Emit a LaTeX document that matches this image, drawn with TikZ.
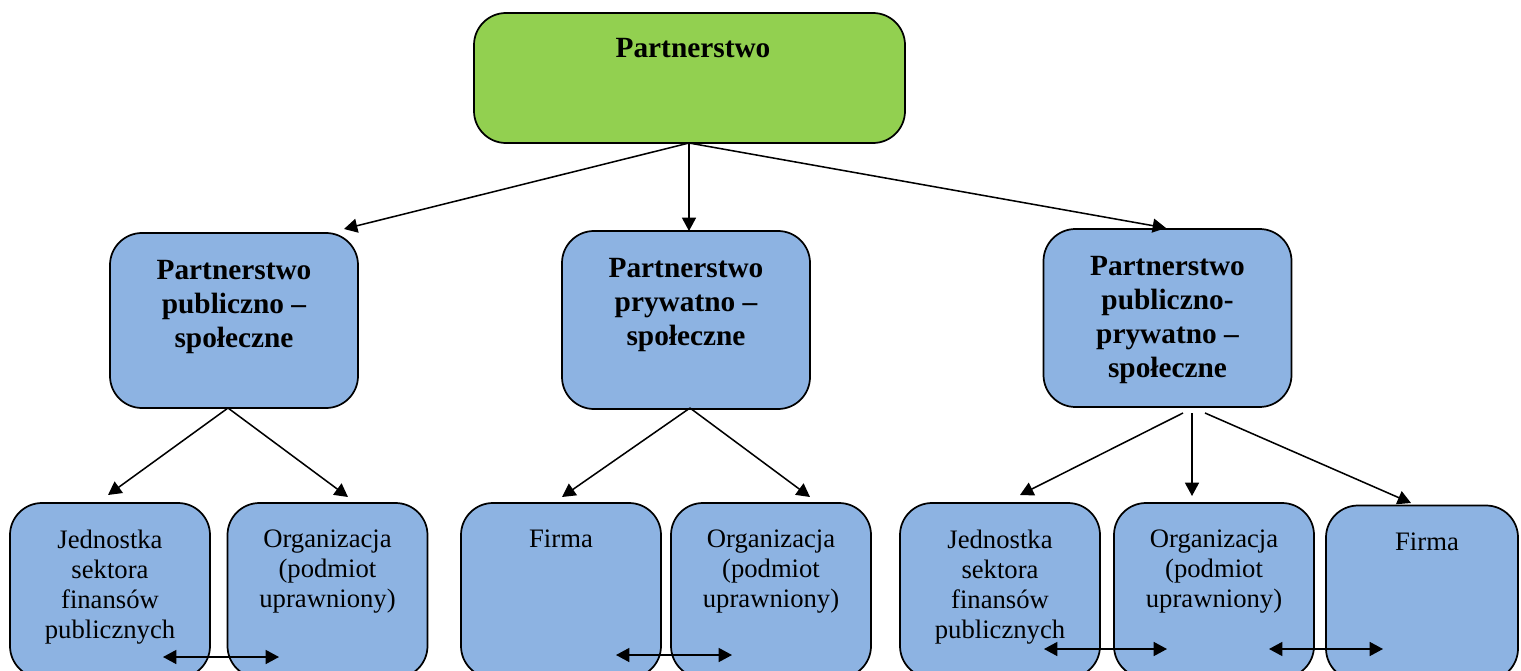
\documentclass[tikz,border=0pt]{standalone}
\usepackage{fontspec}
\setmainfont{Liberation Serif}
\usetikzlibrary{arrows.meta}
\definecolor{topgreen}{HTML}{92D050}
\definecolor{boxblue}{HTML}{8DB3E2}
\tikzset{
  base/.style={draw=black, line width=1.3pt, rounded corners=24pt, inner sep=0pt},
  topbox/.style={base, fill=topgreen, minimum width=323.25pt, minimum height=97.5pt},
  midbox/.style={base, fill=boxblue, minimum width=186pt},
  lowbox/.style={base, fill=boxblue, minimum width=150pt, minimum height=131.25pt},
  boldtxt/.style={inner sep=0pt, anchor=north, align=center, font=\fontsize{22pt}{25.5pt}\selectfont\bfseries},
  plaintxt/.style={inner sep=0pt, anchor=north, align=center, font=\fontsize{20pt}{22.5pt}\selectfont},
  conn/.style={line width=1.15pt, -{Triangle[length=10pt,width=10.5pt]}},
  dconn/.style={line width=1.15pt, {Triangle[length=10pt,width=10.5pt]}-{Triangle[length=10pt,width=10.5pt]}}
}
\begin{document}
\begin{tikzpicture}[x=0.75pt, y=-0.75pt]
\useasboundingbox (0,0) rectangle (1521,671);
\clip (0,0) rectangle (1521,671);
% boxes
\node[topbox] (top) at (689.5,78) {};
\node[midbox, minimum height=131.25pt] (L) at (234,320.5) {};
\node[midbox, minimum height=133.5pt] (M) at (686,320) {};
\node[midbox, minimum height=133.5pt] (R) at (1167.5,318) {};
\node[lowbox] (b1) at (110,590.5) {};
\node[lowbox] (b2) at (327.5,590.5) {};
\node[lowbox] (b3) at (561,590.5) {};
\node[lowbox] (b4) at (771,590.5) {};
\node[lowbox] (b5) at (1000,590.5) {};
\node[lowbox] (b6) at (1214,590.5) {};
\node[lowbox, minimum width=144pt] (b7) at (1422,593) {};
% texts
\node[boldtxt] (tTop) at (693,38) {Partnerstwo};
\node[boldtxt] (tL) at (234,260) {Partnerstwo\\publiczno –\\społeczne};
\node[boldtxt] (tM) at (686,258) {Partnerstwo\\prywatno –\\społeczne};
\node[boldtxt] (tR) at (1167.5,256) {Partnerstwo\\publiczno-\\prywatno –\\społeczne};
\node[plaintxt] (t1) at (110,530) {Jednostka\\sektora\\finansów\\publicznych};
\node[plaintxt] (t2) at (327.5,530) {Organizacja\\(podmiot\\uprawniony)};
\node[plaintxt] (t3) at (561,530) {Firma};
\node[plaintxt] (t4) at (771,530) {Organizacja\\(podmiot\\uprawniony)};
\node[plaintxt] (t5) at (1000,530) {Jednostka\\sektora\\finansów\\publicznych};
\node[plaintxt] (t6) at (1214,530) {Organizacja\\(podmiot\\uprawniony)};
\node[plaintxt] (t7) at (1427,533) {Firma};
% arrow end coordinates
\coordinate (eL) at (344,229);
\coordinate (eM) at (689,231);
\coordinate (eR) at (1166,228);
\coordinate (sTop) at (689,143);
\coordinate (sL) at (228,408);
\coordinate (e1) at (108,495);
\coordinate (e2) at (348,497);
\coordinate (sM) at (690,408);
\coordinate (e3) at (562,497);
\coordinate (e4) at (810,497);
\coordinate (sR1) at (1183,413);
\coordinate (sR2) at (1192,413);
\coordinate (sR3) at (1205,413);
\coordinate (e5) at (1020,495);
\coordinate (e6) at (1192,496);
\coordinate (e7) at (1411,503);
\draw[conn] (sTop) -- (eL);
\draw[conn] (sTop) -- (eM);
\draw[conn] (sTop) -- (eR);
\draw[conn] (sL) -- (e1);
\draw[conn] (sL) -- (e2);
\draw[conn] (sM) -- (e3);
\draw[conn] (sM) -- (e4);
\draw[conn] (sR1) -- (e5);
\draw[conn] (sR2) -- (e6);
\draw[conn] (sR3) -- (e7);
% double arrows
\coordinate (d1a) at (163,657); \coordinate (d1b) at (279,657);
\coordinate (d2a) at (616,655); \coordinate (d2b) at (732,655);
\coordinate (d3a) at (1044,649); \coordinate (d3b) at (1167,649);
\coordinate (d4a) at (1269,649); \coordinate (d4b) at (1383,649);
\draw[dconn] (d1a) -- (d1b);
\draw[dconn] (d2a) -- (d2b);
\draw[dconn] (d3a) -- (d3b);
\draw[dconn] (d4a) -- (d4b);
\end{tikzpicture}
\end{document}
